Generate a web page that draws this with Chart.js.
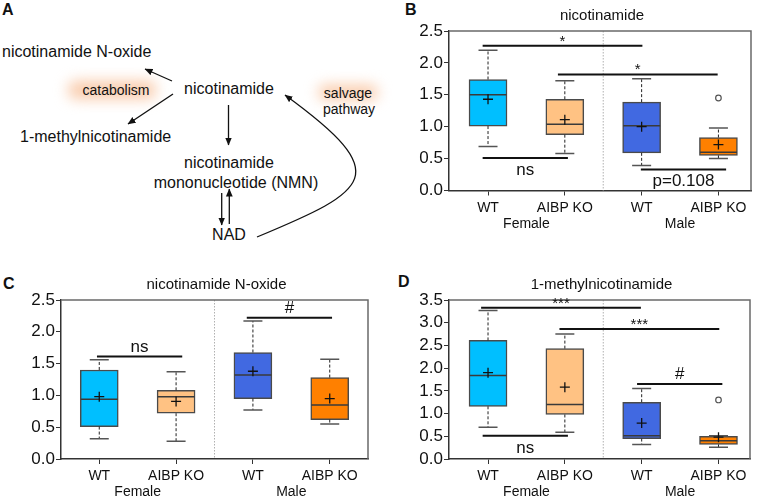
<!DOCTYPE html>
<html><head><meta charset="utf-8">
<script src="https://cdn.jsdelivr.net/npm/chart.js@4"></script>
<style>
html,body{margin:0;padding:0;background:#fff;}
#wrap{position:relative;width:758px;height:499px;overflow:hidden;font-family:"Liberation Sans",Arial,sans-serif;color:#111;}
canvas{position:absolute;}
.t{position:absolute;white-space:nowrap;line-height:1;}
.c{transform:translate(-50%,-50%);}
.l{transform:translate(0,-50%);}
.glow{position:absolute;background:#f9cbab;filter:blur(7px);border-radius:8px;}
.pl{position:absolute;font-weight:bold;font-size:16px;line-height:1;}
</style></head><body>
<div id="wrap">
  <div class="glow" style="left:68px;top:81px;width:88px;height:18px"></div>
  <div class="glow" style="left:318px;top:85px;width:60px;height:15px"></div>
  <svg width="380" height="250" style="position:absolute;left:0;top:0">
    <defs>
      <marker id="ah" markerWidth="8" markerHeight="8" refX="7.5" refY="4" orient="auto" markerUnits="userSpaceOnUse">
        <path d="M0,0.6 L8,4 L0,7.4 z" fill="#111"/>
      </marker>
    </defs>
    <g stroke="#111" stroke-width="1.3" fill="none">
      <line x1="172" y1="81" x2="145" y2="69" marker-end="url(#ah)"/>
      <line x1="173" y1="94" x2="128" y2="124" marker-end="url(#ah)"/>
      <line x1="228.5" y1="105" x2="228.5" y2="145" marker-end="url(#ah)"/>
      <line x1="221.7" y1="193" x2="221.7" y2="225" marker-end="url(#ah)"/>
      <line x1="229.3" y1="224" x2="229.3" y2="189" marker-end="url(#ah)"/>
      <path d="M257,237 C370,190 395,175 285,95" marker-end="url(#ah)"/>
    </g>
  </svg>
  <div class="pl" style="left:2px;top:2px">A</div>
  <div class="t l" style="left:2px;top:52px;font-size:16px">nicotinamide N-oxide</div>
  <div class="t c" style="left:116px;top:90px;font-size:14px">catabolism</div>
  <div class="t c" style="left:229px;top:89px;font-size:16px">nicotinamide</div>
  <div class="t c" style="left:348px;top:93px;font-size:14px">salvage</div>
  <div class="t c" style="left:349px;top:109px;font-size:14px">pathway</div>
  <div class="t l" style="left:20px;top:137px;font-size:16px">1-methylnicotinamide</div>
  <div class="t c" style="left:229px;top:163px;font-size:16px">nicotinamide</div>
  <div class="t c" style="left:236px;top:183px;font-size:16px">mononucleotide (NMN)</div>
  <div class="t c" style="left:229px;top:235px;font-size:16px">NAD</div>
  <div class="pl" style="left:405px;top:2px">B</div>
  <div class="pl" style="left:3px;top:276px">C</div>
  <div class="pl" style="left:398px;top:274px">D</div>
  <canvas id="cB" width="378" height="250" style="left:380px;top:0px"></canvas>
  <canvas id="cC" width="380" height="249" style="left:0px;top:250px"></canvas>
  <canvas id="cD" width="378" height="249" style="left:380px;top:250px"></canvas>
</div>
<script>
// ---- data ----
const categoryLabels = ['WT', 'AIBP KO', 'WT', 'AIBP KO'];
const sexLabels = ['Female', 'Male'];
const groupPositions = [1, 2, 3, 4];

// nicotinamide (B)
const nicLow    = [0.69, 0.58, 0.39, 0.50];
const nicQ1     = [1.01, 0.875, 0.59, 0.55];
const nicMedian = [1.50, 1.04, 1.015, 0.60];
const nicQ3     = [1.74, 1.43, 1.385, 0.83];
const nicHigh   = [2.20, 1.72, 1.75, 0.98];
const nicMean   = [1.43, 1.11, 1.00, 0.72];
const nicOutlierGroup = [4];
const nicOutlierValue = [1.45];
const nicSig = [
  {from: 0.93, to: 3.01, at: 2.27, text: '*', side: 'above'},
  {from: 1.91, to: 3.99, at: 1.82, text: '*', side: 'above'},
  {from: 0.93, to: 2.04, at: 0.51, text: 'ns', side: 'below'},
  {from: 2.99, to: 4.10, at: 0.33, text: 'p=0.108', side: 'below'}
];

// nicotinamide N-oxide (C)
const noxLow    = [0.32, 0.28, 0.77, 0.55];
const noxQ1     = [0.51, 0.72, 0.95, 0.62];
const noxMedian = [0.94, 0.98, 1.32, 0.85];
const noxQ3     = [1.40, 1.08, 1.675, 1.28];
const noxHigh   = [1.56, 1.37, 2.17, 1.57];
const noxMean   = [0.98, 0.905, 1.38, 0.95];
const noxOutlierGroup = [];
const noxOutlierValue = [];
const noxSig = [
  {from: 0.97, to: 2.08, at: 1.61, text: 'ns', side: 'above'},
  {from: 2.92, to: 4.03, at: 2.22, text: '#', side: 'above'}
];

// 1-methylnicotinamide (D)
const mnaLow    = [0.70, 0.59, 0.32, 0.26];
const mnaQ1     = [1.16, 0.98, 0.45, 0.32];
const mnaMedian = [1.84, 1.20, 0.51, 0.40];
const mnaQ3     = [2.61, 2.43, 1.25, 0.50];
const mnaHigh   = [3.27, 2.75, 1.55, 0.51];
const mnaMean   = [1.90, 1.58, 0.79, 0.48];
const mnaOutlierGroup = [4];
const mnaOutlierValue = [1.30];
const mnaSig = [
  {from: 0.91, to: 2.99, at: 3.33, text: '***', side: 'above'},
  {from: 1.93, to: 4.01, at: 2.86, text: '***', side: 'above'},
  {from: 0.93, to: 2.04, at: 0.51, text: 'ns', side: 'below'},
  {from: 2.94, to: 4.05, at: 1.65, text: '#', side: 'above'}
];

// ---- styles ----
const FONT = '"Liberation Sans", Arial, sans-serif';
const boxFill = ['#00bfff', '#ffc283', '#4169e1', '#ff8000'];

function extrasPlugin(d) {
  return {
    id: 'boxExtras',
    beforeDatasetsDraw(chart) {
      const {ctx, chartArea: a, scales: {x}} = chart;
      const px = x.getPixelForValue(2.5);
      ctx.save();
      ctx.strokeStyle = '#b0b0b0';
      ctx.lineWidth = 1;
      ctx.setLineDash([1.5, 1.5]);
      ctx.beginPath(); ctx.moveTo(px, a.top); ctx.lineTo(px, a.bottom); ctx.stroke();
      ctx.restore();
    },
    afterDatasetDraw(chart, args) {
      if (args.index !== 0) return;
      const {ctx, scales: {x, y}} = chart;
      ctx.save();
      groupPositions.forEach((g, i) => {
        const cx = x.getPixelForValue(g);
        const yq1 = y.getPixelForValue(d.q1[i]), yq3 = y.getPixelForValue(d.q3[i]);
        const yl = y.getPixelForValue(d.low[i]), yh = y.getPixelForValue(d.high[i]);
        const ym = y.getPixelForValue(d.median[i]);
        ctx.strokeStyle = '#222'; ctx.lineWidth = 1; ctx.setLineDash([3, 2]);
        ctx.beginPath();
        ctx.moveTo(cx, yq3); ctx.lineTo(cx, yh);
        ctx.moveTo(cx, yq1); ctx.lineTo(cx, yl);
        ctx.stroke();
        ctx.setLineDash([]);
        ctx.strokeStyle = '#555'; ctx.lineWidth = 1.5;
        ctx.beginPath();
        ctx.moveTo(cx - 9.5, yh); ctx.lineTo(cx + 9.5, yh);
        ctx.moveTo(cx - 9.5, yl); ctx.lineTo(cx + 9.5, yl);
        ctx.stroke();
        ctx.strokeStyle = '#3a3a3a'; ctx.lineWidth = 1.5;
        ctx.beginPath(); ctx.moveTo(cx - 18.5, ym); ctx.lineTo(cx + 18.5, ym); ctx.stroke();
      });
      ctx.restore();
    },
    afterDraw(chart) {
      const {ctx, chartArea: a, scales: {x, y}} = chart;
      ctx.save();
      ctx.strokeStyle = '#6a6a6a'; ctx.lineWidth = 1.5;
      ctx.beginPath();
      ctx.moveTo(a.left, a.top); ctx.lineTo(a.right, a.top); ctx.lineTo(a.right, a.bottom);
      ctx.stroke();
      d.sig.forEach(s => {
        const x1 = x.getPixelForValue(s.from), x2 = x.getPixelForValue(s.to);
        const py = y.getPixelForValue(s.at);
        ctx.strokeStyle = '#111'; ctx.lineWidth = 2;
        ctx.beginPath(); ctx.moveTo(x1, py); ctx.lineTo(x2, py); ctx.stroke();
        ctx.fillStyle = '#111'; ctx.textAlign = 'center'; ctx.textBaseline = 'alphabetic';
        const star = s.text.indexOf('*') >= 0;
        ctx.font = (star ? '15px ' : '17px ') + FONT;
        const ty = s.side === 'above' ? py - (star ? 0 : 5) : py + 17;
        ctx.fillText(s.text, (x1 + x2) / 2, ty);
      });
      ctx.font = '14px ' + FONT; ctx.fillStyle = '#111'; ctx.textAlign = 'center'; ctx.textBaseline = 'middle';
      ctx.fillText(sexLabels[0], x.getPixelForValue(1.5), a.bottom + 33.5);
      ctx.fillText(sexLabels[1], x.getPixelForValue(3.5), a.bottom + 33.5);
      ctx.font = '15px ' + FONT;
      ctx.fillText(d.title, (a.left + a.right) / 2 + 2, a.top - 15);
      ctx.restore();
    }
  };
}

function makeChart(id, d, L) {
  new Chart(document.getElementById(id), {
    type: 'bar',
    data: {
      datasets: [
        {
          type: 'bar',
          data: groupPositions.map((g, i) => ({x: g, y: [d.q1[i], d.q3[i]]})),
          backgroundColor: boxFill,
          borderColor: '#4a4a4a',
          borderWidth: 1.5,
          borderSkipped: false,
          barThickness: 38,
          order: 2
        },
        {
          type: 'scatter',
          data: groupPositions.map((g, i) => ({x: g, y: d.mean[i]})),
          pointStyle: 'cross',
          radius: 5,
          borderColor: '#111',
          borderWidth: 1.3,
          order: 0
        },
        {
          type: 'scatter',
          data: d.outG.map((g, i) => ({x: g, y: d.outV[i]})),
          pointStyle: 'circle',
          radius: 2.8,
          backgroundColor: '#fff',
          borderColor: '#555',
          borderWidth: 1.2,
          order: 0
        }
      ]
    },
    options: {
      responsive: false,
      animation: false,
      devicePixelRatio: 1,
      layout: {padding: {top: L.top, right: L.right, bottom: L.bottom, left: 0}},
      plugins: {legend: {display: false}, tooltip: {enabled: false}, title: {display: false}},
      scales: {
        x: {
          type: 'linear', min: L.xmin, max: L.xmax, offset: false,
          afterBuildTicks: s => { s.ticks = groupPositions.map(v => ({value: v})); },
          afterFit: s => { s.height = 40; },
          ticks: {callback: (v, i) => categoryLabels[i], font: {size: 14, family: FONT}, color: '#111', padding: 4, maxRotation: 0, autoSkip: false},
          grid: {drawOnChartArea: false, drawTicks: true, tickLength: 5, color: '#333', lineWidth: 1, offset: false},
          border: {display: true, color: '#333', width: 1.5}
        },
        y: {
          min: 0, max: L.ymax,
          afterFit: s => { s.width = L.yw; },
          ticks: {stepSize: 0.5, autoSkip: false, callback: v => Number(v).toFixed(1), font: {size: 17, family: FONT, lineHeight: 1}, color: '#111', padding: 1},
          grid: {drawOnChartArea: false, drawTicks: true, tickLength: 5, color: '#333', lineWidth: 1},
          border: {display: true, color: '#333', width: 1.5}
        }
      }
    },
    plugins: [extrasPlugin(d)]
  });
}

makeChart('cB', {title: 'nicotinamide', low: nicLow, q1: nicQ1, median: nicMedian, q3: nicQ3, high: nicHigh, mean: nicMean, outG: nicOutlierGroup, outV: nicOutlierValue, sig: nicSig},
  {top: 31, right: 7, bottom: 19.5, yw: 69, xmin: 0.492, xmax: 4.424, ymax: 2.5});
makeChart('cC', {title: 'nicotinamide N-oxide', low: noxLow, q1: noxQ1, median: noxMedian, q3: noxQ3, high: noxHigh, mean: noxMean, outG: noxOutlierGroup, outV: noxOutlierValue, sig: noxSig},
  {top: 50, right: 12, bottom: 0, yw: 61, xmin: 0.502, xmax: 4.498, ymax: 2.5});
makeChart('cD', {title: '1-methylnicotinamide', low: mnaLow, q1: mnaQ1, median: mnaMedian, q3: mnaQ3, high: mnaHigh, mean: mnaMean, outG: mnaOutlierGroup, outV: mnaOutlierValue, sig: mnaSig},
  {top: 50, right: 8, bottom: 0, yw: 69, xmin: 0.492, xmax: 4.41, ymax: 3.5});
</script>
</body></html>
